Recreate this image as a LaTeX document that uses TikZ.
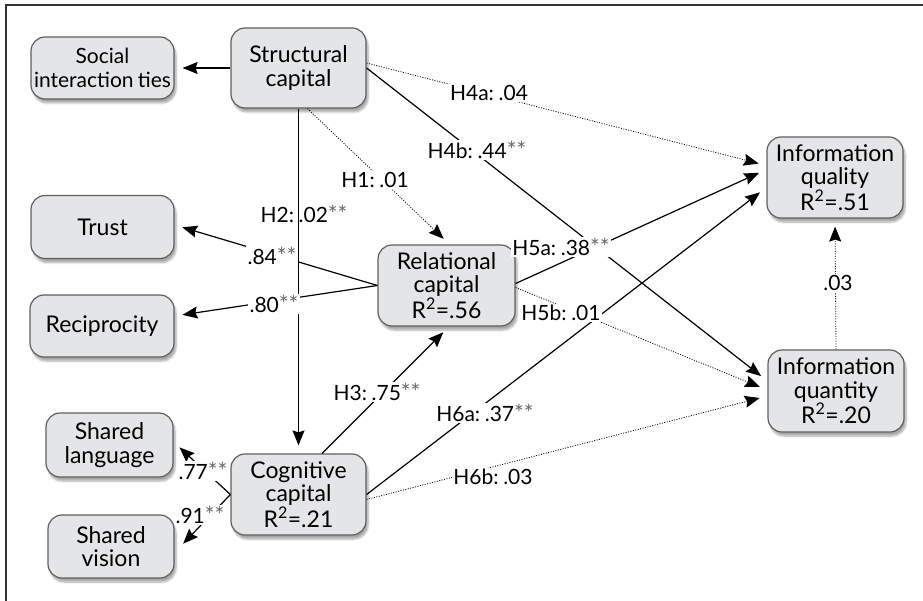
\documentclass[tikz,border=0pt]{standalone}
\usepackage{fontspec}
\setmainfont{Lato}
\usetikzlibrary{arrows.meta,calc,shadows.blur}
\definecolor{boxfill}{RGB}{228,229,231}
\definecolor{boxline}{RGB}{95,95,95}
\newcommand{\stars}{{\fontsize{23}{23}\selectfont\color{black!60}**}}
\newcommand{\hs}{\hspace{0.22em}}
\begin{document}
\begin{tikzpicture}[x=1pt,y=-1pt,
    box/.style={draw=boxline,line width=1.2pt,fill=boxfill,rounded corners=14pt,align=center,
      inner sep=0pt,font=\fontsize{23}{23.5}\selectfont,
      blur shadow={shadow xshift=2pt,shadow yshift=-4pt,shadow blur steps=6,shadow opacity=35}},
    lbl/.style={fill=white,inner sep=1.5pt,font=\fontsize{21}{22}\selectfont},
    sig/.style={line width=1.2pt,-{Stealth[length=15pt,width=12pt,inset=2pt]},shorten >=8pt},
    ns/.style={sig,line width=0.8pt,dash pattern=on 1pt off 1.5pt}]
    \useasboundingbox (0,0) rectangle (923,601);
    \draw[line width=2pt,black!80] (6,601) -- (6,5) -- (923,5);
    \node[box,minimum width=143pt,minimum height=62pt,font=\fontsize{21}{23.5}\selectfont] (ties) at (102.5,68) {Social\\interaction\hspace{0.2em}ties};
    \node[box,minimum width=135pt,minimum height=80pt] (struct) at (298.5,68) {Structural\\capital};
    \node[box,minimum width=143pt,minimum height=63pt] (trust) at (102.5,227) {Trust};
    \node[box,minimum width=144pt,minimum height=62pt] (recip) at (102,326) {Reciprocity};
    \node[box,minimum width=137pt,minimum height=81pt] (rel) at (446.5,285.5) {Relational\\capital\\R\textsuperscript{2}=.56};
    \node[box,minimum width=127pt,minimum height=64pt] (lang) at (109.5,445) {Shared\\language};
    \node[box,minimum width=126pt,minimum height=63pt] (vision) at (111,546.5) {Shared\\vision};
    \node[box,minimum width=135pt,minimum height=81pt] (cog) at (298.5,494.5) {Cognitive\\capital\\R\textsuperscript{2}=.21};
    \node[box,minimum width=136pt,minimum height=81pt] (iqual) at (835,177.5) {Information\\quality\\R\textsuperscript{2}=.51};
    \node[box,minimum width=136pt,minimum height=82pt] (iquan) at (836,391) {Information\\quantity\\R\textsuperscript{2}=.20};
    \draw[sig] (struct) -- (ties);
    \draw[sig] (struct) -- (cog);
    \draw[ns] ($(struct.south)+(9,0)$) -- ($(rel.north)+(3,0)$);
    \draw[ns] ($(struct.east)+(0,-5)$) -- ($(iqual.west)+(0,-12)$);
    \draw[sig] (struct.east) -- ($(iquan.west)+(0,-10)$);
    \draw[sig] ($(rel.east)+(0,-2)$) -- ($(iqual.west)+(0,-8)$);
    \draw[ns] ($(rel.east)+(0,2)$) -- ($(iquan.west)+(0,-1)$);
    \draw[sig] (rel.west) -- ($(trust.east)+(0,-2)$);
    \draw[sig] (rel.west) -- ($(recip.east)+(0,-10)$);
    \draw[sig] ($(cog.north)+(23.5,0)$) -- ($(rel.south)+(2.5,0)$);
    \draw[sig] (cog.east) -- ($(iqual.west)+(0,10)$);
    \draw[ns] ($(cog.east)+(0,5)$) -- ($(iquan.west)+(0,5)$);
    \draw[sig] (cog.west) -- ($(lang.east)+(0,-3)$);
    \draw[sig] (cog.west) -- ($(vision.east)+(3,3)$);
    \draw[ns] (iquan.north) -- (iqual.south);
    \node[lbl] (h4a) at (489,93) {H4a:\hs.04};
    \node[lbl] (h4b) at (477,150) {H4b:\hs.44\stars};
    \node[lbl] (h1) at (375,180) {H1:\hs.01};
    \node[lbl,fill=none] (h2) at (304,214) {H2:\hs.02\stars};
    \node[lbl] (l84) at (272,256) {.84\stars};
    \node[lbl] (l80) at (274,304) {.80\stars};
    \node[lbl] (h5a) at (561,247) {H5a:\hs.38\stars};
    \node[lbl] (h5b) at (561,313) {H5b:\hs.01};
    \node[lbl] (h3) at (377,392) {H3:\hs.75\stars};
    \node[lbl] (h6a) at (485,413) {H6a:\hs.37\stars};
    \node[lbl] (h6b) at (493,477) {H6b:\hs.03};
    \node[lbl] (l77) at (203,471) {.77\stars};
    \node[lbl] (l91) at (200,515) {.91\stars};
    \node[lbl] (l03) at (838,283) {.03};
\end{tikzpicture}
\end{document}
